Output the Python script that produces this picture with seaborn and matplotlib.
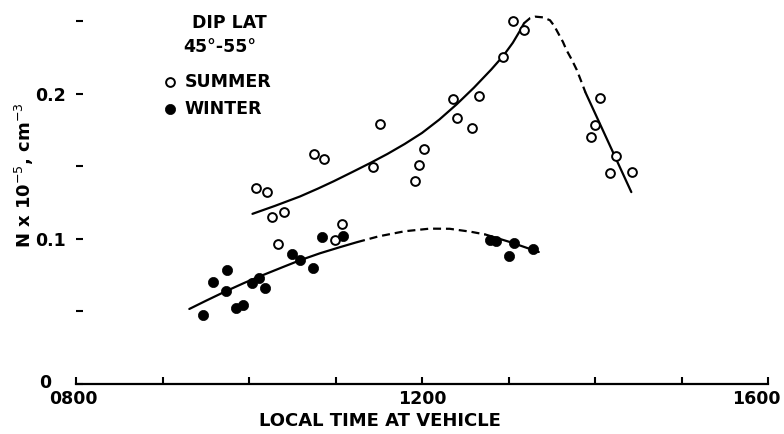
import matplotlib
matplotlib.use("Agg")
import matplotlib.pyplot as plt
import numpy as np
import pandas as pd
import seaborn as sns
from matplotlib.transforms import ScaledTranslation

# ---- data (local time in hours, N in units of 1e5 cm^-3) ----
summer_time = [10.08, 10.21, 10.27, 10.41, 10.33, 10.75, 10.87, 10.99, 11.08,
               11.43, 11.52, 11.92, 11.97, 12.02, 12.36, 12.41, 12.58, 12.66,
               12.94, 13.05, 13.18, 13.95, 14.00, 14.06, 14.24, 14.17, 14.43]
summer_n = [0.135, 0.132, 0.115, 0.118, 0.096, 0.158, 0.155, 0.099, 0.110,
            0.149, 0.179, 0.140, 0.151, 0.162, 0.196, 0.183, 0.176, 0.198,
            0.225, 0.250, 0.244, 0.170, 0.178, 0.197, 0.157, 0.145, 0.146]

winter_time = [9.47, 9.58, 9.73, 9.75, 9.85, 9.93, 10.03, 10.12, 10.19, 10.50,
               10.59, 10.74, 10.84, 11.09, 12.79, 12.86, 13.06, 13.01, 13.28]
winter_n = [0.047, 0.070, 0.064, 0.078, 0.052, 0.054, 0.069, 0.073, 0.066, 0.089,
            0.085, 0.080, 0.101, 0.102, 0.099, 0.098, 0.097, 0.088, 0.093]

# hand-drawn curves
summer_curve_time = [10.04, 10.30, 10.59, 10.80, 10.98, 11.20, 11.40, 11.60, 11.80,
                     12.00, 12.20, 12.40, 12.60, 12.80, 12.94, 13.05, 13.13, 13.18]
summer_curve_n = [0.117, 0.1225, 0.129, 0.1345, 0.1395, 0.146, 0.152, 0.1583, 0.1652,
                  0.1728, 0.182, 0.1925, 0.204, 0.2165, 0.226, 0.235, 0.243, 0.2485]
summer_dash_time = [13.18, 13.25, 13.31, 13.40, 13.48, 13.53, 13.58, 13.63, 13.67,
                    13.73, 13.79, 13.84, 13.89]
summer_dash_n = [0.2485, 0.252, 0.253, 0.2525, 0.2505, 0.2465, 0.241, 0.2355, 0.230,
                 0.2235, 0.2162, 0.2085, 0.2007]
summer_fall_time = [13.89, 14.42]
summer_fall_n = [0.2007, 0.132]

winter_curve_time = [9.31, 9.50, 9.72, 9.95, 10.15, 10.40, 10.59, 10.82, 11.05, 11.25]
winter_curve_n = [0.0514, 0.057, 0.0633, 0.0695, 0.0745, 0.0805, 0.085, 0.0898, 0.094, 0.0975]
winter_dash_time = [11.25, 11.50, 11.80, 12.09, 12.32, 12.56, 12.73]
winter_dash_n = [0.0975, 0.1015, 0.105, 0.1068, 0.1067, 0.1047, 0.1028]
winter_end_time = [12.73, 13.02, 13.35]
winter_end_n = [0.1028, 0.0975, 0.0907]

x_ticks = [8, 9, 10, 11, 12, 13, 14, 15, 16]
x_tick_labels = ["0800", "", "", "", "1200", "", "", "", "1600"]
y_ticks = [0, 0.05, 0.10, 0.15, 0.20, 0.25]
y_tick_labels = ["0", "", "0.1", "", "0.2", ""]

legend_title = ["DIP LAT", "45°-55°"]

# ---- style ----
sns.set_theme(style="white")
plt.rcParams["font.family"] = ["DejaVu Sans"]
plt.rcParams["mathtext.fontset"] = "dejavusans"
for key in ["text.color", "axes.labelcolor", "xtick.color", "ytick.color",
            "axes.edgecolor"]:
    plt.rcParams[key] = "black"
FS = 12.5
WEIGHT = "bold"

W, H = 784, 434
fig = plt.figure(figsize=(W / 100, H / 100), dpi=100)
ax = fig.add_axes([76 / W, 50.5 / H, 692 / W, 377 / H])

LW = 1.6
solid_sets = [(summer_curve_time, summer_curve_n), (summer_fall_time, summer_fall_n),
              (winter_curve_time, winter_curve_n), (winter_end_time, winter_end_n)]
dash_sets = [(summer_dash_time, summer_dash_n), (winter_dash_time, winter_dash_n)]
for t, n in solid_sets:
    sns.lineplot(x=t, y=n, sort=False, estimator=None, color="black", lw=LW,
                 ax=ax, legend=False, solid_capstyle="round", solid_joinstyle="round")
for t, n in dash_sets:
    sns.lineplot(x=t, y=n, sort=False, estimator=None, color="black", lw=LW,
                 ax=ax, legend=False, linestyle=(0, (3.6, 2.2)))

summer_df = pd.DataFrame({"time": summer_time, "n": summer_n})
winter_df = pd.DataFrame({"time": winter_time, "n": winter_n})
sns.scatterplot(data=summer_df, x="time", y="n", ax=ax, marker="o", s=40,
                color="white", edgecolor="black", linewidth=1.4, label="SUMMER",
                zorder=4)
sns.scatterplot(data=winter_df, x="time", y="n", ax=ax, marker="o", s=54,
                color="black", edgecolor="black", linewidth=0.5, label="WINTER",
                zorder=4)

ax.set_xlim(8, 16)
ax.set_ylim(0, 0.26)
ax.set_xticks(x_ticks)
ax.set_xticklabels(x_tick_labels, fontsize=FS, fontweight=WEIGHT, color="black")
ax.set_yticks(y_ticks)
ax.set_yticklabels(y_tick_labels, fontsize=FS, fontweight=WEIGHT, color="black")

for s in ["top", "right", "left"]:
    ax.spines[s].set_visible(False)
ax.spines["bottom"].set_linewidth(1.6)
ax.spines["bottom"].set_color("black")

ax.tick_params(axis="x", direction="in", length=5, width=1.5, pad=4.5,
               colors="black", bottom=True)
ax.tick_params(axis="y", direction="in", length=5, width=1.5, pad=7,
               colors="black", left=True)

ax.set_xlabel("LOCAL TIME AT VEHICLE", fontsize=13, fontweight=WEIGHT, color="black")
ax.xaxis.set_label_coords(0.439, -0.075)
ax.set_ylabel(r"N x 10$^{-5}$, cm$^{-3}$", fontsize=13, fontweight=WEIGHT, color="black")
ax.yaxis.set_label_coords(-0.058, 0.553)

# label nudges as in the reference
def nudge(lbl, dx_px, dy_px):
    lbl.set_transform(lbl.get_transform() +
                      ScaledTranslation(dx_px / 100, dy_px / 100, fig.dpi_scale_trans))

nudge(ax.get_yticklabels()[0], -15, 2)
nudge(ax.get_xticklabels()[0], -3, 0)
nudge(ax.get_xticklabels()[-1], -12, 0)

handles, labels = ax.get_legend_handles_labels()
leg = ax.legend(handles, labels, loc="upper left",
                bbox_to_anchor=(154.3 / W, 1 - 66 / H), bbox_transform=fig.transFigure,
                frameon=False, handlelength=1.0, handletextpad=0.36, labelspacing=0.5,
                borderaxespad=0, prop={"size": FS, "weight": WEIGHT},
                labelcolor="black")

fig.text(229 / W, 1 - 28 / H, legend_title[0], ha="center", va="baseline",
         fontsize=FS, fontweight=WEIGHT, color="black")
fig.text(220 / W, 1 - 52 / H, legend_title[1], ha="center", va="baseline",
         fontsize=FS, fontweight=WEIGHT, color="black")

fig.savefig("out.png", dpi=100, facecolor="white")
